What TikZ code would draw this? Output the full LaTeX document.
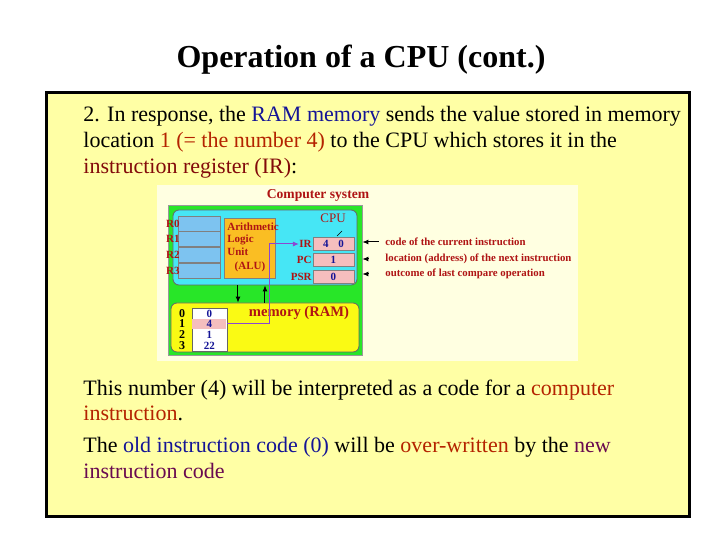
\documentclass[tikz,border=0pt]{standalone}
\usepackage{fontspec}
\setmainfont{Liberation Serif}
\usetikzlibrary{arrows.meta}
\definecolor{slideyel}{RGB}{255,255,165}
\definecolor{figyel}{RGB}{255,255,225}
\definecolor{ramblue}{RGB}{20,20,150}
\definecolor{brick}{RGB}{180,35,0}
\definecolor{maroon}{RGB}{130,10,10}
\definecolor{plum}{RGB}{105,10,80}
\definecolor{diared}{RGB}{175,20,20}
\definecolor{boxgreen}{RGB}{40,230,40}
\definecolor{cpucyan}{RGB}{70,230,245}
\definecolor{regblue}{RGB}{125,195,240}
\definecolor{alufill}{RGB}{250,190,35}
\definecolor{pinkreg}{RGB}{245,190,190}
\definecolor{memyel}{RGB}{250,250,20}
\definecolor{wirecol}{RGB}{140,70,210}

\begin{document}
\begin{tikzpicture}[x=0.5pt,y=-0.5pt,
  txt/.style={anchor=base west,inner sep=0pt,font=\fontsize{11}{13}\selectfont},
  dia/.style={inner sep=0pt,text=diared,font=\fontsize{5.5}{6}\selectfont\bfseries},
  note/.style={anchor=west,inner sep=0pt,text=diared,font=\fontsize{5.4}{6}\selectfont\bfseries},
  reg/.style={draw=black!50,fill=regblue,minimum width=21pt,minimum height=7.5pt,inner sep=0pt},
  sreg/.style={draw=black!50,fill=pinkreg,minimum width=20.5pt,minimum height=6.5pt,inner sep=0pt,
    text=ramblue,font=\fontsize{5.5}{6}\selectfont\bfseries},
  cell/.style={minimum width=17.5pt,minimum height=5.4pt,inner sep=0pt,
    text=ramblue,font=\fontsize{5.5}{6}\selectfont\bfseries},
  tip/.style={-{Latex[length=3pt,width=2.5pt]},black,line width=0.5pt}]
\useasboundingbox (0,0) rectangle (720,540);
\fill[white] (0,0) rectangle (720,540);

% title and slide frame
\node[font=\fontsize{16}{19}\selectfont\bfseries] (title) at (361,60) {Operation of a CPU (cont.)};
\draw[line width=1.5pt,fill=slideyel] (47,93) rectangle (690,517);

% upper text
\node[txt] (l1) at (83,122) {2. In response, the \textcolor{ramblue}{RAM memory} sends the value stored in memory};
\node[txt] (l2) at (83,148) {location \textcolor{brick}{1 (= the number 4)} to the CPU which stores it in the};
\node[txt] (l3) at (83,174) {\textcolor{maroon}{instruction register (IR)}:};

% figure
\fill[figyel] (157,185) rectangle (578,361);
\node[dia,font=\fontsize{6.8}{8}\selectfont\bfseries] (sys) at (318,195) {Computer system};
\node[draw=black!40,fill=boxgreen,minimum width=97pt,minimum height=75pt,inner sep=0pt] (comp) at (265,280) {};
\node[draw=black!60,fill=cpucyan,rounded corners=3pt,minimum width=92pt,minimum height=37.5pt,inner sep=0pt] (cpu) at (265,247.5) {};
\node[dia,font=\fontsize{6.5}{8}\selectfont] (cpul) at (333,218) {CPU};

% general registers
\foreach \r/\y in {0/224,1/239,2/254.5,3/271}{
  \node[reg] (r\r) at (199,\y) {};
  \node[dia,anchor=east] (rl\r) at (180,\y) {R\r};
}

% ALU
\node[draw=black!50,fill=alufill,minimum width=25.5pt,minimum height=30pt,inner sep=0pt] (alu) at (249.5,248) {};
\node[dia,align=left,anchor=north west,font=\fontsize{5.5}{6.3}\selectfont\bfseries] (alut) at (227,222) {Arithmetic\\Logic\\Unit};
\node[dia] (alul) at (250,267) {(ALU)};

% special registers
\node[sreg] (ir) at (333.5,244) {4\hspace{5pt}0};
\node[sreg] (pc) at (333.5,260) {1};
\node[sreg] (psr) at (333.5,276.5) {0};
\draw[black,line width=0.3pt] (337,236) -- (342,231);
\node[dia,anchor=east] (irl) at (312,244) {IR};
\node[dia,anchor=east] (pcl) at (312,260) {PC};
\node[dia,anchor=east] (psrl) at (312,276.5) {PSR};

% notes on the right
\node[note] (nir) at (385,242) {code of the current instruction};
\node[note] (npc) at (385,259) {location (address) of the next instruction};
\node[note] (npsr) at (385,274) {outcome of last compare operation};
\draw[tip,shorten <=3pt,shorten >=4pt] (nir.west) -- (ir.east |- nir.west);
\draw[tip,shorten <=8.5pt,shorten >=4pt] (npc.west) -- (pc.east |- npc.west);
\draw[tip,shorten <=8.5pt,shorten >=4pt] (npsr.west) -- (psr.east |- npsr.west);

% memory
\node[draw=black!60,fill=memyel,rounded corners=3pt,minimum width=94pt,minimum height=24.5pt,inner sep=0pt] (ram) at (265,327.5) {};
\node[dia,font=\fontsize{7.3}{8}\selectfont\bfseries] (raml) at (299,313) {memory (RAM)};
\node[draw=black!60,fill=white,minimum width=17.5pt,minimum height=21.5pt,inner sep=0pt] (mtab) at (209.5,329.5) {};
\fill[pinkreg] (192.5,318.8) rectangle (226.5,329);
\foreach \a/\v/\y in {0/0/313.4,1/4/324,2/1/335,3/22/345.6}{
  \node[cell] (m\a) at (209.5,\y) {\v};
  \node[dia,text=black,font=\fontsize{6}{6}\selectfont\bfseries] (ma\a) at (182,\y) {\a};
}

% data paths
\coordinate (dn) at (238,0);
\coordinate (up) at (265,0);
\draw[tip] (cpu.south -| dn) -- (ram.north -| dn);
\draw[tip] (ram.north -| up) -- (cpu.south -| up);
\coordinate (wx) at (270,244);
\draw[wirecol,line width=0.5pt,-{Latex[length=3pt,width=2.5pt]}] (m1.east) -| (wx) -- (irl.west);

% lower text
\node[txt] (l4) at (83,396) {This number (4) will be interpreted as a code for a \textcolor{brick}{computer}};
\node[txt] (l5) at (83,421) {\textcolor{brick}{instruction}.};
\node[txt] (l6) at (83,453) {The \textcolor{ramblue}{old instruction code (0)} will be \textcolor{brick}{over-written} by the \textcolor{plum}{new}};
\node[txt] (l7) at (83,479) {\textcolor{plum}{instruction code}};
\end{tikzpicture}
\end{document}
